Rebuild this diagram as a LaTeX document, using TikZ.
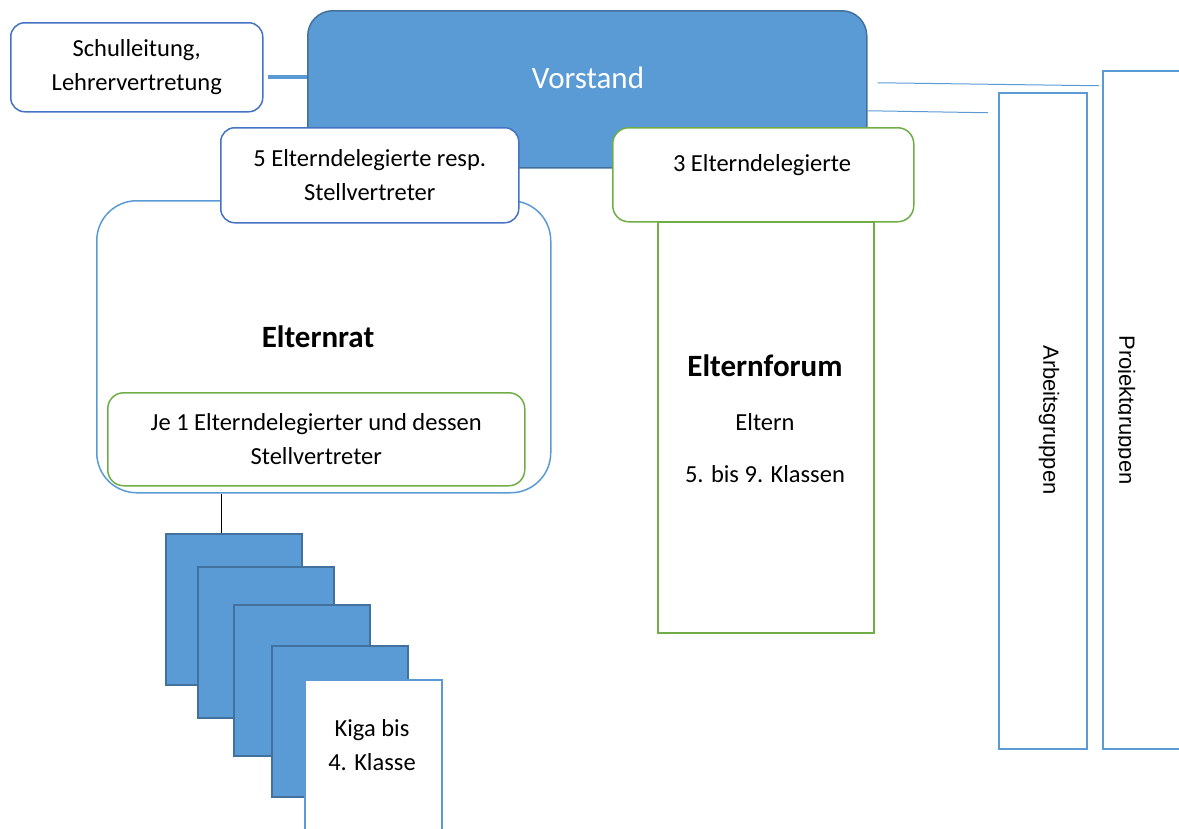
\documentclass[tikz,border=0pt]{standalone}
\usepackage{fontspec}
\setmainfont{Carlito}
\newfontfamily\arialfont{Liberation Sans}
\usetikzlibrary{positioning,calc}
\definecolor{boxblue}{HTML}{5B9BD5}
\definecolor{darkblue}{HTML}{41719C}
\definecolor{lineblue}{HTML}{4472C4}
\definecolor{boxgreen}{HTML}{70AD47}

\tikzset{
	txt/.style={font=\fontsize{24.5}{34}\selectfont, align=center, inner sep=0pt},
	title/.style={font=\fontsize{31}{36}\selectfont\bfseries, inner sep=0pt},
	box/.style={draw, line width=1.5pt, fill=white, inner sep=0pt, anchor=north west},
	bluebox/.style={box, draw=lineblue, rounded corners=14pt},
	greenbox/.style={box, draw=boxgreen, rounded corners=16pt},
	klasse/.style={box, draw=darkblue, fill=boxblue, minimum width=136pt, minimum height=151pt},
	gruppe/.style={box, draw=boxblue, minimum width=88pt},
	vertical/.style={font=\arialfont\fontsize{22}{26}\selectfont, rotate=-90, inner sep=0pt},
	link/.style={draw=boxblue, line width=1pt}
}

\begin{document}
\begin{tikzpicture}[x=1pt, y=-1pt]
	\useasboundingbox (0,0) rectangle (1179,828);
	\clip (0,0) rectangle (1179,828);

	% top row
	\node[bluebox, minimum width=252pt, minimum height=89pt, txt] (schule) at (10,22) {Schulleitung,\\Lehrervertretung};
	\node[box, draw=darkblue, fill=boxblue, rounded corners=25pt, minimum width=559pt, minimum height=157pt] (vorstand) at (307,10) {};
	\node[txt, text=white, font=\fontsize{31}{36}\selectfont] (vorstand-text) at (588,78) {Vorstand};
	\draw[draw=boxblue, line width=4pt] ([xshift=4pt,yshift=-9.5pt]schule.east) -- ([yshift=-9.5pt]schule.east -| vorstand.west);

	% Elternrat
	\node[box, draw=boxblue, rounded corners=40pt, minimum width=454pt, minimum height=292pt] (elternrat) at (96,200) {};
	\node[bluebox, minimum width=298pt, minimum height=95pt, txt] (fuenf) at (220,127) {5 Elterndelegierte resp.\\Stellvertreter};
	\node[title] (elternrat-text) at (318,337) {Elternrat};
	\node[greenbox, minimum width=417pt, minimum height=93pt, txt] (je) at (107,392) {Je 1 Elterndelegierter und dessen\\Stellvertreter};

	% Elternforum
	\node[box, draw=boxgreen, minimum width=216pt, minimum height=411pt] (forum) at (657,221) {};
	\node[greenbox, minimum width=301pt, minimum height=94pt] (drei) at (612,127) {};
	\node[txt] (drei-text) at (762,165) {3 Elterndelegierte};
	\node[title] (forum-text) at (765,366) {Elternforum};
	\node[txt] (eltern) at (765,422) {Eltern};
	\node[txt] (klassen) at (765,474) {5. bis 9. Klassen};

	% Gruppen
	\node[gruppe, minimum height=656pt] (arbeit) at (998,92) {};
	\node[gruppe, minimum width=100pt, minimum height=678pt] (projekt) at (1102,70) {};
	\node[vertical] (arbeit-text) at (1049,420) {Arbeitsgruppen};
	\begin{scope}
		\clip (1118,70) rectangle (1179,748);
		\node[vertical] (projekt-text) at (1125,410) {Projektgruppen};
	\end{scope}
	\draw[link] ([xshift=10pt,yshift=6.5pt]vorstand.east) -- ([xshift=-3pt,yshift=3.5pt]vorstand.east -| projekt.west);
	\draw[link] ([yshift=-21.5pt]vorstand.east) -- ([xshift=-10pt,yshift=-23.5pt]vorstand.east -| arbeit.west);

	% Klassen
	\foreach \x/\y [count=\i] in {165/533, 197/566, 233/604, 271/645}
		\node[klasse] (klasse\i) at (\x,\y) {};
	\node[box, draw=boxblue, minimum width=137pt, minimum height=151pt] (kiga) at (304,679) {};
	\node[txt] (kiga-text) at (372,745) {Kiga bis\\4. Klasse};
	\draw[line width=0.8pt] ([xshift=-12pt]klasse1.north) -- ([xshift=-12pt]klasse1.north |- elternrat.south);
\end{tikzpicture}
\end{document}
